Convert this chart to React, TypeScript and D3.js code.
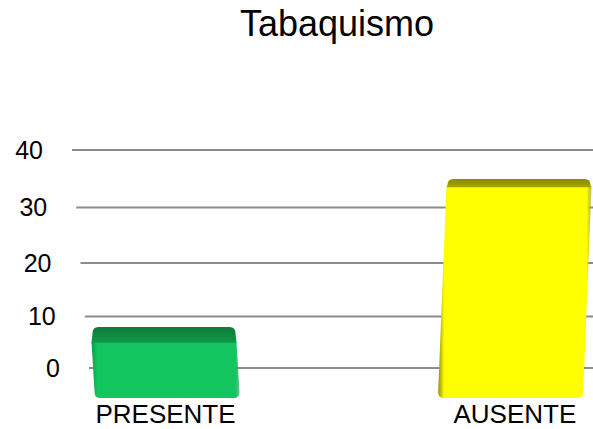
import React from "react";
import * as d3 from "d3";

const title = "Tabaquismo";
const categories = ["PRESENTE", "AUSENTE"];
const values = [8, 35];
const yTicks = [0, 10, 20, 30, 40];

const W = 593;
const H = 429;
const FONT = "'Liberation Sans', Arial, sans-serif";

const palette: Record<string, { front: string; edge: string; top: string; topLight: string }> = {
  PRESENTE: { front: "#13c55e", edge: "#0c9c47", top: "#0d7a39", topLight: "#119a4b" },
  AUSENTE: { front: "#ffff00", edge: "#8f8f00", top: "#8a8a00", topLight: "#a6a600" },
};

export default function App() {
  const t = d3.scaleLinear().domain([0, 40]).range([0, 1]);
  const k = 0.079;
  const yPx = d3.scaleLinear().domain([0, 1]).range([368, 150]);
  const y = (v: number) => {
    const tt = t(v);
    return yPx((tt * (1 + k * tt)) / (1 + k));
  };
  const gridX = d3.scaleLinear().domain([0, 40]).range([89, 72]);
  const depth = d3.scaleLinear().domain([0, 40]).range([17, 6]);
  const x = d3.scalePoint<string>().domain(categories).range([164, 519]);
  const baseY = y(0) + 30;
  const barW = 145;
  const vanishX = 370;
  const skewK = 0.000264;
  const r = 6;

  const bars = categories.map((c, i) => {
    const v = values[i];
    const cx = x(c) as number;
    const xl = cx - barW / 2;
    const xr = cx + barW / 2;
    const yBack = y(v);
    const yT = yBack + depth(v);
    const s = skewK * (vanishX - cx) * (baseY - yT);

    const front = d3.path();
    front.moveTo(xl, yT);
    front.lineTo(xr, yT);
    front.lineTo(xr + s, baseY - r);
    front.quadraticCurveTo(xr + s, baseY, xr + s - r, baseY);
    front.lineTo(xl + s + r, baseY);
    front.quadraticCurveTo(xl + s, baseY, xl + s, baseY - r);
    front.closePath();

    const top = d3.path();
    top.moveTo(xl, yT + 1);
    top.lineTo(xl + 1, yBack + r);
    top.quadraticCurveTo(xl + 1, yBack, xl + 1 + r, yBack);
    top.lineTo(xr - 1 - r, yBack);
    top.quadraticCurveTo(xr - 1, yBack, xr - 1, yBack + r);
    top.lineTo(xr, yT + 1);
    top.closePath();

    return { c, i, cx, xl, xr, yBack, yT, s, front: front.toString(), top: top.toString() };
  });

  return (
    <svg width={W} height={H} style={{ display: "block", position: "absolute", left: 0, top: 0 }}>
      <defs>
        {bars.map((b) => {
          const p = palette[b.c];
          return (
            <React.Fragment key={b.c}>
              <linearGradient id={`front-${b.i}`} x1="0" y1="0" x2="1" y2="0">
                <stop offset="0" stopColor={p.edge} />
                <stop offset="0.04" stopColor={p.front} />
                <stop offset="0.97" stopColor={p.front} />
                <stop offset="1" stopColor={p.edge} stopOpacity={0.6} />
              </linearGradient>
              <linearGradient id={`top-${b.i}`} x1="0" y1="0" x2="0" y2="1">
                <stop offset="0" stopColor={p.top} />
                <stop offset="1" stopColor={p.topLight} />
              </linearGradient>
            </React.Fragment>
          );
        })}
      </defs>
      <rect width={W} height={H} fill="#ffffff" />
      <text x={337} y={36} textAnchor="middle" fontFamily={FONT} fontSize={36} fill="#000">
        {title}
      </text>
      {yTicks.map((v) => (
        <g key={v}>
          <line x1={gridX(v)} x2={W} y1={y(v)} y2={y(v)} stroke="#8c8c8c" strokeWidth={2} />
          <text
            x={gridX(v) - 29}
            y={y(v) + 9}
            textAnchor="end"
            fontFamily={FONT}
            fontSize={25}
            fill="#000"
          >
            {v}
          </text>
        </g>
      ))}
      {bars.map((b) => (
        <g key={b.c}>
          <path d={b.front} fill={`url(#front-${b.i})`} />
          <path d={b.top} fill={`url(#top-${b.i})`} />
          <text
            x={b.cx + b.s / 2}
            y={423}
            textAnchor="middle"
            fontFamily={FONT}
            fontSize={26}
            fill="#000"
          >
            {b.c}
          </text>
        </g>
      ))}
    </svg>
  );
}
